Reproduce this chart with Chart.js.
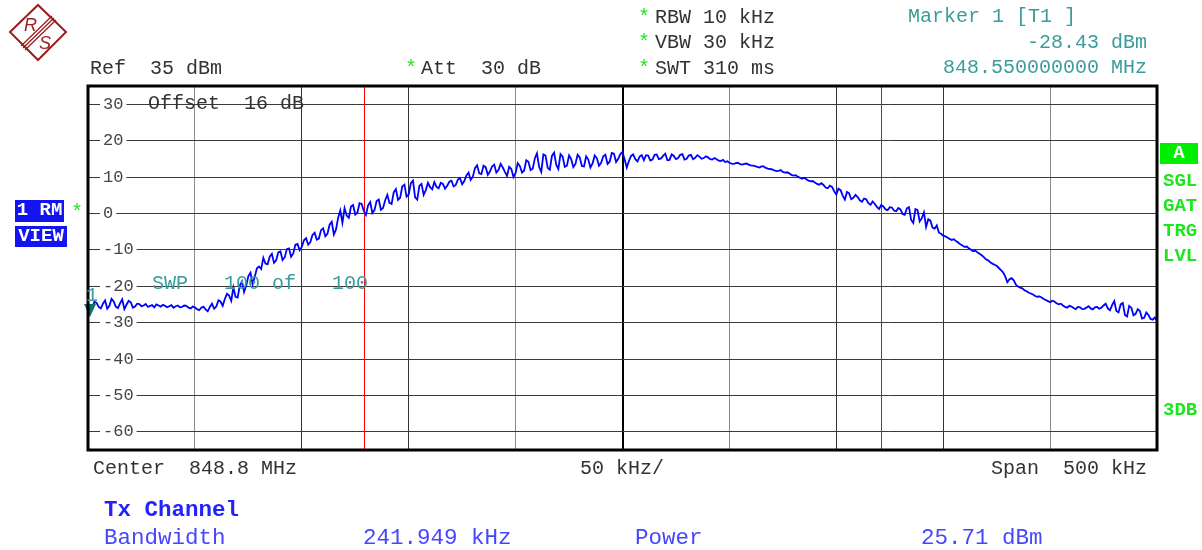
<!DOCTYPE html>
<html>
<head>
<meta charset="utf-8">
<script src="https://cdn.jsdelivr.net/npm/chart.js@4.4.1/dist/chart.umd.min.js"></script>
<style>
  html, body { margin: 0; padding: 0; background: #fff; }
  #screen { position: relative; width: 1202px; height: 550px; overflow: hidden; }
  #spectrum { position: absolute; left: 0; top: 0; }
  .t {
    position: absolute; white-space: pre; font-family: 'Liberation Mono', 'Courier New', monospace;
    font-size: 20px; line-height: 20px; color: #333;
  }
  .r { text-align: right; }
  .teal { color: #3a9c9c; }
  .green { color: #1ee61e; font-weight: bold; font-size: 19px; }
  .star { color: #1ee61e; }
  .box { position: absolute; color: #fff; font-family: 'Liberation Mono', monospace; font-weight: bold;
         font-size: 19px; line-height: 21px; text-align: center; white-space: pre; }
  .blue { color: #4646ff; font-size: 22.5px; line-height: 22px; }
  .blue.b { color: #2222ff; font-weight: bold; }
</style>
</head>
<body>
<div id="screen">
  <canvas id="spectrum" width="1202" height="550"></canvas>

  <!-- R&S logo -->
  <svg style="position:absolute;left:0;top:0" width="80" height="70">
    <g stroke="#9b1d1d" fill="none">
      <polygon points="10,32 38,5 66,32 38,60" stroke-width="2"/>
      <line x1="21" y1="46" x2="52" y2="16" stroke-width="1.3"/>
      <line x1="23" y1="48" x2="54" y2="18" stroke-width="1.3"/>
      <line x1="25" y1="50" x2="56" y2="20" stroke-width="1.3"/>
    </g>
    <text x="24" y="31" font-family="Liberation Sans, sans-serif" font-size="18" font-style="italic" fill="#9b1d1d">R</text>
    <text x="39" y="49" font-family="Liberation Sans, sans-serif" font-size="18" font-style="italic" fill="#9b1d1d">S</text>
  </svg>

  <!-- settings header -->
  <div class="t" style="left:90px;top:59px">Ref  35 dBm</div>
  <div class="t star" style="left:405px;top:59px">*</div>
  <div class="t" style="left:421px;top:59px">Att  30 dB</div>
  <div class="t star" style="left:638px;top:8px">*</div>
  <div class="t" style="left:655px;top:8px">RBW 10 kHz</div>
  <div class="t star" style="left:638px;top:33px">*</div>
  <div class="t" style="left:655px;top:33px">VBW 30 kHz</div>
  <div class="t star" style="left:638px;top:59px">*</div>
  <div class="t" style="left:655px;top:59px">SWT 310 ms</div>
  <div class="t teal" style="left:908px;top:7px">Marker 1 [T1 ]</div>
  <div class="t teal r" id="mkLevel" style="right:55px;top:33px"></div>
  <div class="t teal r" id="mkFreq" style="right:55px;top:58px"></div>

  <!-- inside the grid -->
  <div class="t" style="left:148px;top:94px">Offset  16 dB</div>
  <div class="t teal" style="left:152px;top:274px">SWP   100 of   100</div>
  <div class="t teal" style="left:86px;top:286px">1</div>

  <!-- left side -->
  <div class="box" style="left:15px;top:200px;width:49px;height:22px;background:#1414f0">1 RM</div>
  <div class="box" style="left:15px;top:226px;width:52px;height:21px;background:#1414f0">VIEW</div>
  <div class="t star" style="left:71px;top:203px">*</div>

  <!-- right side -->
  <div class="box" style="left:1160px;top:143px;width:38px;height:21px;background:#00ee00">A</div>
  <div class="t green" style="left:1163px;top:171px">SGL</div>
  <div class="t green" style="left:1163px;top:196px">GAT</div>
  <div class="t green" style="left:1163px;top:221px">TRG</div>
  <div class="t green" style="left:1163px;top:246px">LVL</div>
  <div class="t green" style="left:1163px;top:400px">3DB</div>

  <!-- frequency axis -->
  <div class="t" style="left:93px;top:459px">Center  848.8 MHz</div>
  <div class="t" style="left:580px;top:459px">50 kHz/</div>
  <div class="t r" style="right:55px;top:459px">Span  500 kHz</div>

  <!-- channel power result -->
  <div class="t blue b" style="left:104px;top:499px">Tx Channel</div>
  <div class="t blue" style="left:104px;top:527px">Bandwidth</div>
  <div class="t blue" id="txBw" style="left:363px;top:527px"></div>
  <div class="t blue" style="left:635px;top:527px">Power</div>
  <div class="t blue" id="txPow" style="left:921px;top:527px"></div>
</div>

<script>
// Sweep setup
const CENTER_MHZ = 848.8;
const SPAN_KHZ = 500;
const SWEEP_START_KHZ = -250;
const SWEEP_STEP_KHZ = 1;

// Trace 1 (RM view), dBm per sweep point, 501 points
const TRACE_DBM = [
  -28.43, -26.9, -25.8, -24.3, -24.6, -25.7, -26.1, -24.8, -23.9, -26.2, -25.4, -23.5, -24.2, -25.6, -26.0, -24.7, -23.6, -26.3, -25.1, -24.0,
  -24.4, -25.9, -25.6, -24.8, -24.9, -25.5, -25.3, -24.9, -25.7, -25.4, -25.2, -25.8, -25.0, -25.3, -25.6, -25.1, -25.4, -25.8, -25.5, -25.2,
  -25.9, -25.5, -25.3, -25.8, -25.7, -25.3, -25.4, -25.9, -26.1, -25.6, -25.8, -26.3, -26.6, -25.9, -25.6, -26.4, -26.9, -25.7, -24.8, -26.2,
  -25.6, -23.9, -24.2, -25.4, -23.5, -22.1, -22.6, -24.0, -20.4, -22.9, -23.1, -19.8, -18.7, -21.6, -19.9, -17.2, -16.3, -19.5, -17.4, -15.1,
  -14.6, -15.3, -12.2, -13.8, -14.0, -11.9, -11.1, -13.6, -12.9, -10.7, -10.4, -12.8, -12.1, -9.8, -9.6, -11.9, -11.0, -8.6, -8.4, -10.1,
  -9.2, -7.4, -6.8, -8.6, -7.9, -5.9, -5.3, -7.2, -6.9, -4.6, -4.1, -6.3, -5.6, -3.1, -2.3, -5.8, -4.4, -1.2, 0.8, -2.6,
  1.4, -0.6, -1.2, 1.9, 2.3, -0.3, 0.2, 2.8, 2.6, 0.7, -0.4, 2.2, 3.1, 0.1, 0.9, 3.4, 3.8, 1.0, 1.5, 3.6,
  5.1, 2.9, 2.6, 5.8, 6.7, 3.7, 4.3, 7.4, 7.9, 4.6, 5.2, 8.3, 9.0, 4.4, 3.8, 7.6, 8.1, 5.1, 6.4, 8.4,
  7.2, 6.6, 8.6, 7.3, 6.9, 8.4, 8.1, 6.8, 7.6, 8.7, 9.0, 7.4, 7.8, 9.3, 9.7, 8.0, 8.9, 10.4, 11.2, 9.2,
  10.1, 12.4, 13.2, 11.0, 10.8, 13.1, 12.7, 10.6, 11.5, 12.9, 13.4, 11.2, 11.9, 13.6, 12.6, 11.4, 10.3, 12.8, 12.2, 10.0,
  11.1, 13.8, 13.0, 11.2, 11.8, 14.6, 14.2, 11.9, 12.3, 15.1, 16.5, 12.8, 11.4, 16.2, 15.9, 12.5, 12.0, 15.8, 16.7, 13.4,
  12.2, 16.3, 15.6, 12.8, 13.1, 15.9, 14.9, 12.7, 13.6, 16.1, 15.4, 13.0, 12.9, 15.7, 14.8, 12.6, 13.7, 15.9, 15.2, 13.1,
  13.9, 15.7, 16.1, 13.6, 14.2, 16.6, 16.4, 14.1, 15.0, 16.3, 16.9, 14.8, 12.6, 14.4, 15.8, 16.2, 14.9, 14.3, 15.6, 16.0,
  14.6, 16.0, 15.9, 14.5, 14.8, 16.1, 16.2, 14.9, 15.1, 15.8, 16.4, 14.6, 14.7, 16.2, 15.8, 14.9, 15.2, 16.1, 16.3, 14.8,
  15.0, 15.9, 16.1, 14.9, 15.3, 16.0, 15.6, 15.0, 15.2, 15.7, 15.4, 14.9, 14.8, 15.2, 14.9, 14.5, 14.4, 14.7, 14.1, 14.3,
  13.9, 13.7, 13.6, 13.8, 13.9, 13.5, 13.4, 13.6, 13.7, 13.4, 13.2, 13.1, 13.0, 12.8, 12.6, 12.9, 12.9, 12.5, 12.3, 12.2,
  12.1, 11.8, 11.6, 11.7, 11.9, 11.4, 11.2, 11.3, 11.0, 10.6, 10.4, 10.5, 10.1, 9.8, 9.5, 9.8, 9.4, 9.0, 8.8, 8.9,
  8.5, 8.1, 7.9, 8.3, 7.8, 7.1, 6.9, 7.6, 7.3, 6.1, 5.2, 6.8, 6.4, 4.9, 3.8, 5.9, 5.5, 3.9, 4.3, 5.1,
  4.5, 3.6, 3.2, 4.1, 3.9, 2.8, 2.4, 3.3, 2.6, 1.8, 1.2, 2.3, 1.9, 1.1, 0.9, 1.7, 1.6, 0.8, 0.6, 1.5,
  1.1, -0.2, -0.4, 1.4, 1.7, -1.8, -2.6, 1.2, 0.9, -2.2, -1.3, 0.3, -3.7, -1.6, -2.0, -3.9, -4.2, -3.3, -5.3, -5.6,
  -6.1, -6.3, -6.6, -7.0, -7.3, -7.1, -7.6, -8.0, -8.5, -8.8, -9.2, -9.1, -9.6, -10.0, -10.4, -10.2, -10.7, -11.1, -11.5, -12.0,
  -12.6, -12.9, -13.4, -13.8, -14.1, -14.4, -15.0, -15.6, -16.2, -17.3, -18.9, -18.1, -17.8, -18.4, -19.6, -20.1, -20.4, -20.6, -21.1, -21.4,
  -21.8, -22.0, -22.3, -22.7, -22.9, -22.8, -23.1, -23.5, -23.8, -24.1, -24.4, -24.0, -24.2, -24.7, -25.0, -24.8, -25.3, -25.7, -25.9, -25.4,
  -25.6, -26.0, -26.3, -25.7, -25.8, -26.3, -26.2, -25.9, -25.5, -26.1, -26.4, -25.8, -25.7, -26.2, -25.9, -25.3, -24.8, -26.1, -26.6, -25.2,
  -24.1, -26.8, -27.2, -25.0, -24.6, -27.9, -28.3, -25.4, -25.9, -28.0, -27.6, -26.3, -26.8, -28.9, -28.7, -27.2, -27.9, -29.0, -29.2, -28.6,
  -29.6
];

// Level axis (Ref 35 dBm, 10 dB/div)
const REF_LEVEL = 35;
const BOTTOM_LEVEL = -65;
const Y_TICKS = [30, 20, 10, 0, -10, -20, -30, -40, -50, -60];

// Marker 1 and channel power measurement
const MARKER_FREQ_MHZ = 848.55;
const MARKER_LEVEL_DBM = -28.43;
const TX_BANDWIDTH_KHZ = 241.949;
const TX_POWER_DBM = 25.71;

document.getElementById('mkLevel').textContent = MARKER_LEVEL_DBM.toFixed(2) + ' dBm';
document.getElementById('mkFreq').textContent = MARKER_FREQ_MHZ.toFixed(9) + ' MHz';
document.getElementById('txBw').textContent = TX_BANDWIDTH_KHZ.toFixed(3) + ' kHz';
document.getElementById('txPow').textContent = TX_POWER_DBM.toFixed(2) + ' dBm';

const tracePoints = TRACE_DBM.map((v, i) => ({ x: SWEEP_START_KHZ + i * SWEEP_STEP_KHZ, y: v }));

// vertical grid shades, left to right
const X_GRID_COLORS = {
  '-200': '#8a8a8a', '-150': '#333', '-100': '#333', '-50': '#8a8a8a',
  '0': '#000', '50': '#8a8a8a', '100': '#333', '150': '#333', '200': '#8a8a8a'
};

// Red channel limits at +/- half the Tx bandwidth
const channelLimits = {
  id: 'channelLimits',
  beforeDatasetsDraw(chart) {
    const { ctx, chartArea, scales: { x } } = chart;
    ctx.save();
    ctx.strokeStyle = '#ff0000';
    ctx.lineWidth = 1;
    [-TX_BANDWIDTH_KHZ / 2, TX_BANDWIDTH_KHZ / 2].forEach(f => {
      const px = Math.round(x.getPixelForValue(f)) + 0.5;
      ctx.beginPath();
      ctx.moveTo(px, chartArea.top);
      ctx.lineTo(px, chartArea.bottom);
      ctx.stroke();
    });
    ctx.restore();
  }
};

// Marker 1 triangle, tip on the measured level
const markerPlugin = {
  id: 'marker1',
  afterDatasetsDraw(chart) {
    const { ctx, scales: { x, y } } = chart;
    const px = x.getPixelForValue((MARKER_FREQ_MHZ - CENTER_MHZ) * 1000) + 2;
    const py = y.getPixelForValue(MARKER_LEVEL_DBM);
    ctx.save();
    ctx.fillStyle = '#12706a';
    ctx.beginPath();
    ctx.moveTo(px - 6, py - 13);
    ctx.lineTo(px + 6, py - 13);
    ctx.lineTo(px, py);
    ctx.closePath();
    ctx.fill();
    ctx.restore();
  }
};

// heavy black frame round the grid
const framePlugin = {
  id: 'frame',
  afterDraw(chart) {
    const { ctx, chartArea: a } = chart;
    ctx.save();
    ctx.strokeStyle = '#000';
    ctx.lineWidth = 3;
    ctx.strokeRect(a.left, a.top, a.right - a.left, a.bottom - a.top);
    ctx.restore();
  }
};

new Chart(document.getElementById('spectrum'), {
  type: 'line',
  data: {
    datasets: [{
      data: tracePoints,
      borderColor: '#0000ff',
      borderWidth: 1.8,
      pointRadius: 0,
      tension: 0
    }]
  },
  options: {
    responsive: false,
    animation: false,
    devicePixelRatio: 1,
    layout: { padding: { left: 88, top: 86, right: 45, bottom: 100 } },
    plugins: { legend: { display: false }, tooltip: { enabled: false } },
    scales: {
      x: {
        type: 'linear',
        min: -SPAN_KHZ / 2,
        max: SPAN_KHZ / 2,
        ticks: { display: false, stepSize: 50 },
        border: { display: false },
        grid: {
          drawTicks: false,
          color: ctx => X_GRID_COLORS[String(ctx.tick.value)] || '#000',
          lineWidth: ctx => (ctx.tick.value === 0 ? 2 : 1)
        }
      },
      y: {
        min: BOTTOM_LEVEL,
        max: REF_LEVEL,
        afterBuildTicks: scale => { scale.ticks = Y_TICKS.map(v => ({ value: v })); },
        // labels sit inside the grid, so the axis takes no room
        afterFit: scale => { scale.width = 0; },
        border: { display: false },
        grid: { drawTicks: false, color: '#3a3a3a', lineWidth: 1 },
        ticks: {
          mirror: true,
          padding: 15,
          color: '#444',
          font: { family: "'Liberation Mono', monospace", size: 17 },
          showLabelBackdrop: true,
          backdropColor: '#ffffff',
          backdropPadding: { top: 1, bottom: 1, left: 3, right: 3 },
          callback: v => String(v)
        }
      }
    }
  },
  plugins: [channelLimits, markerPlugin, framePlugin]
});
</script>
</body>
</html>
